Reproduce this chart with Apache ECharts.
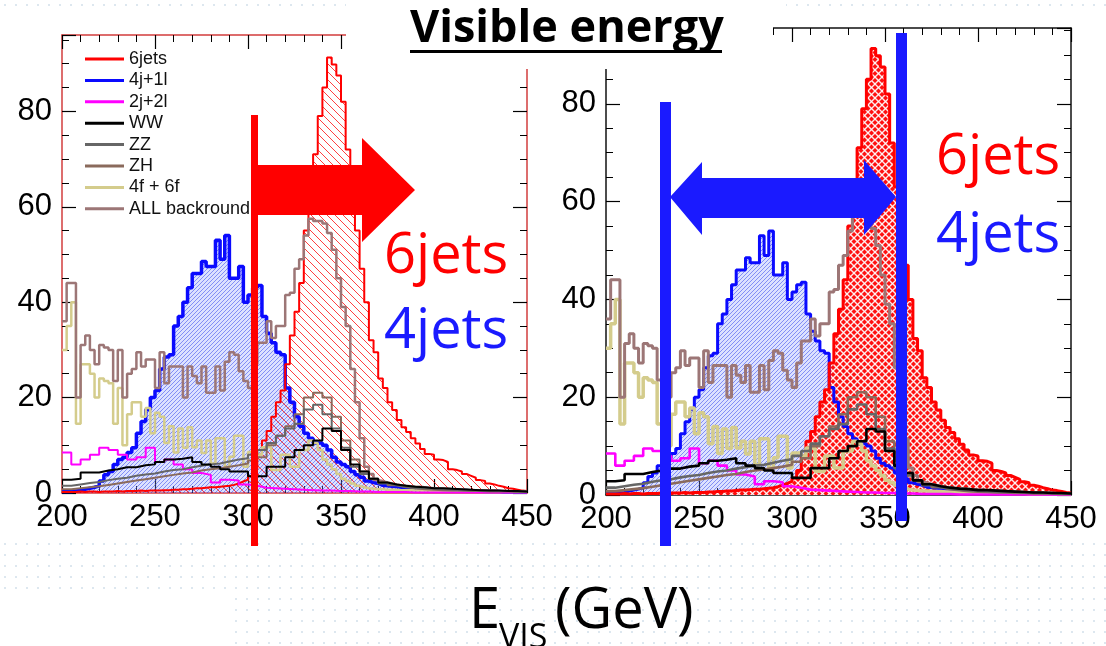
<!DOCTYPE html>
<html>
<head>
<meta charset="utf-8">
<title>Visible energy</title>
<script src="https://cdn.jsdelivr.net/npm/echarts@6/dist/echarts.min.js"></script>
<style>
  html, body { margin: 0; padding: 0; background: #fff; }
  #chart { width: 1106px; height: 646px; }
</style>
</head>
<body>
<div id="chart"></div>
<script>
// E_vis histograms, bins start at 200 GeV
const E_MIN = 200, E_MAX = 450;
const FINE = 2.5;   // bin width (GeV) of the jagged histograms
const COARSE = 5;   // bin width of the smooth ones

const legendNames = ['6jets', '4j+1l', '2j+2l', 'WW', 'ZZ', 'ZH', '4f + 6f', 'ALL backround'];

// 2.5 GeV bins, 200 -> 450
const sixJets = [
  0.2, 0.2, 0.2, 0.3, 0.2, 0.3, 0.3, 0.2, 0.3, 0.3, 0.3, 0.4, 0.3, 0.4, 0.4, 0.4, 0.5, 0.4, 0.5, 0.5, 0.5, 0.6, 0.6, 0.7,
  0.7, 0.8, 0.8, 0.9, 1.0, 1.0, 1.1, 1.2, 1.2, 1.3, 1.4, 1.5, 1.7, 2, 2.4, 2.8,
  3.5, 5, 8, 11, 13, 16, 19, 21.5, 27, 33, 38, 44, 55, 63, 71, 79, 85, 91.3, 89.8, 87.5,
  82, 72, 63, 55, 47, 40, 32, 29.5, 24, 22, 19, 17.4, 15.3, 13.8, 12.8, 11.5, 10.4, 9.2, 8.2, 8,
  7, 6.9, 6.5, 5, 4.8, 4.5, 4, 3.6, 3.2, 2.7, 2.5, 2, 1.8, 1.5, 1.3, 1, 0.9, 0.7, 0.5, 0.4
];
const fourJ1L = [
  0.3, 0.3, 0.4, 0.5, 0.8, 1, 1.2, 1.5, 2.5, 3.8, 4.5, 6, 7, 7.5, 8.5, 9.5, 12.5, 15, 17.5, 20,
  21.5, 26, 28.5, 29, 35, 37, 40, 43, 46, 46, 48.5, 47.5, 47.5, 53, 49, 54, 45, 45, 47.5, 40,
  41.5, 43, 43.5, 37, 33.5, 31.5, 29.5, 29, 22, 19, 16, 14, 12.5, 11.5, 10.5, 10.5, 10, 9, 7.5, 6.5,
  6, 5.5, 4.5, 3.8, 3.3, 2.5, 2.2, 2, 1.6, 1.5, 1.4, 1.3, 1.2, 1.2, 1.1, 1.1, 1, 1, 0.9, 0.8,
  0.7, 0.7, 0.6, 0.6, 0.5, 0.5, 0.5, 0.4, 0.4, 0.4, 0.3, 0.3, 0.3, 0.3, 0.2, 0.2, 0.2, 0.2, 0.2, 0.2
];
const allBkg = [
  36, 44, 44, 20, 31, 33, 30, 27, 31, 30.5, 30, 23.5, 30, 20, 25, 26, 29.5, 26.5, 28, 28,
  22, 29.5, 23, 26.5, 26.5, 26.5, 20, 26.5, 24.5, 23, 26.5, 21, 21, 26.5, 21.5, 27.5, 29.5, 29, 25.5, 23.5,
  22, 27, 31.5, 31.5, 36, 32.5, 35, 35, 41.5, 42, 47, 49, 54, 57.5, 57, 57, 56.5, 54.5, 51, 45,
  39, 35, 26, 19, 11.5, 5.5, 4, 2.7, 2.5, 2.2, 2, 1.8, 1.6,
  1.5, 1.4, 1.3, 1.3, 1.2, 1.1, 1, 1, 0.9, 0.9, 0.8, 0.8, 0.7, 0.7, 0.6, 0.6, 0.6, 0.5, 0.5, 0.5,
  0.4, 0.4, 0.4, 0.3, 0.3, 0.3, 0.3
];
const fourF6F = [
  30, 35, 40, 14.5, 27, 27, 25, 20, 24, 23.5, 23, 14.5, 22, 10, 16.5, 19, 19, 16, 17.8, 12.5,
  16.8, 16, 10.5, 14, 8.5, 13.5, 9.5, 13.8, 9.6, 11, 8.4, 11, 6.2, 11.5, 11.5, 5.5, 7.6, 12, 12, 5.5,
  8.6, 8.6, 8, 9.6, 9.6, 4.8, 4.8, 8, 8, 5.5, 5.5, 9, 9, 11, 10.5, 9, 7, 6, 5, 4,
  3, 2.5, 2, 1.5, 1.2, 1,
  0.9, 0.8, 0.8, 0.7, 0.7, 0.7, 0.6, 0.6, 0.6, 0.5, 0.5, 0.5, 0.5, 0.4, 0.4, 0.4, 0.4, 0.4, 0.3, 0.3,
  0.3, 0.3, 0.3, 0.3, 0.2, 0.2, 0.2, 0.2, 0.2, 0.2, 0.2, 0.2, 0.2, 0.2
];

// 5 GeV bins, 200 -> 450
const twoJ2L = [
  8.5, 6, 7, 8, 9.5, 9, 8, 7, 7.5, 9.5, 6.5, 7, 6, 5, 4.2, 3.8, 2.2, 2.8, 2.6, 1.8,
  1.5, 1.1, 1, 0.9, 0.8, 0.7, 0.6, 0.5, 0.5, 0.4, 0.4, 0.3, 0.3, 0.2, 0.2, 0.2, 0.2, 0.1, 0.1, 0.1,
  0.1, 0.1, 0.1, 0.1, 0.1, 0.1, 0.1, 0.1, 0.1, 0.1
];
const ww = [
  2.8, 3, 4.3, 4.3, 4.7, 5, 5.4, 5.4, 5.8, 6, 6.5, 7, 7.2, 7.5, 6.5, 6, 5.5, 5, 4.5, 4.5,
  3.5, 3.5, 5.5, 5.5, 7.5, 9, 10, 11, 13.5, 13, 9, 6, 4.5, 3, 2.2, 1.8, 1.5, 1.3, 1.2, 1,
  1, 0.9, 0.8, 0.7, 0.6, 0.5, 0.5, 0.4, 0.4, 0.3
];
const zz = [
  1.5, 1.8, 2.1, 2.3, 2.7, 3, 3.2, 3.6, 3.9, 4.1, 4.5, 4.8, 5, 5.4, 5.7, 6, 6.2, 6.6, 7, 7.3,
  8, 9, 10.5, 12, 13.5, 14.5, 17.5, 18.5, 16.5, 13.5, 9.5, 5.5, 4, 3, 2, 1.6, 1.3, 1.1, 1, 0.9,
  0.8, 0.7, 0.6, 0.6, 0.5, 0.5, 0.4, 0.4, 0.3, 0.3
];
const zh = [
  0.8, 1, 1.2, 1.4, 1.7, 2, 2.3, 2.6, 2.9, 3.2, 3.5, 3.8, 4.1, 4.3, 4.7, 5, 5.2, 5.5, 5.8, 6.2,
  6.8, 7.5, 10, 12, 14, 16.5, 20, 21, 20, 16, 11, 7, 4.5, 3, 2.2, 1.6, 1.2, 1, 0.8, 0.7,
  0.6, 0.5, 0.5, 0.4, 0.4, 0.3, 0.3, 0.3, 0.2, 0.2
];

function pattern(size, draw) {
  const c = document.createElement('canvas');
  c.width = c.height = size;
  draw(c.getContext('2d'), size);
  return { image: c, repeat: 'repeat' };
}
function diag(g, s, dir) {
  g.beginPath();
  if (dir > 0) {
    g.moveTo(-1, -1); g.lineTo(s + 1, s + 1);
    g.moveTo(-1, s - 1); g.lineTo(1, s + 1);
    g.moveTo(s - 1, -1); g.lineTo(s + 1, 1);
  } else {
    g.moveTo(-1, s + 1); g.lineTo(s + 1, -1);
    g.moveTo(-1, 1); g.lineTo(1, -1);
    g.moveTo(s - 1, s + 1); g.lineTo(s + 1, s - 1);
  }
  g.stroke();
}
const redHatch = pattern(8, (g, s) => {
  g.strokeStyle = 'rgba(255,0,0,0.75)'; g.lineWidth = 1; diag(g, s, 1);
});
const redCross = pattern(7, (g, s) => {
  g.fillStyle = '#ff1010'; g.fillRect(0, 0, s, s);
  g.strokeStyle = 'rgba(255,255,255,0.9)'; g.lineWidth = 1.4;
  diag(g, s, 1); diag(g, s, -1);
});
const blueFill = pattern(4, (g, s) => {
  g.fillStyle = 'rgba(140,155,255,0.3)'; g.fillRect(0, 0, s, s);
  g.strokeStyle = 'rgba(40,60,235,0.5)'; g.lineWidth = 1; diag(g, s, -1);
});
const dots = pattern(11, (g) => {
  g.fillStyle = '#dde7ef'; g.fillRect(4, 4, 2, 2);
});

// per-panel look: [left, right]
const looks = [
  { red: redHatch, frame: '#d23c3c', w: { red: 2, blue: 3.5, thin: 2, khaki: 2.5, mauve: 2.5 } },
  { red: redCross, frame: '#111', w: { red: 3, blue: 3, thin: 2.6, khaki: 3.5, mauve: 3 } }
];

function hist(panel, name, vals, width, color, lw, fill) {
  const data = vals.map((v, i) => [E_MIN + i * width, v]);
  data.push([E_MAX, vals[vals.length - 1]]);
  const s = {
    type: 'line', name, step: 'end', symbol: 'none', silent: true,
    xAxisIndex: panel * 2, yAxisIndex: panel * 2,
    data,
    lineStyle: { color, width: lw },
    itemStyle: { color }
  };
  if (fill) s.areaStyle = { color: fill, opacity: 1 };
  return s;
}

const series = [];
[0, 1].forEach(p => {
  const L = looks[p];
  series.push(
    hist(p, '4j+1l', fourJ1L, FINE, '#0a0aff', L.w.blue, blueFill),
    hist(p, '6jets', sixJets, FINE, '#ff0000', L.w.red, L.red),
    hist(p, '4f + 6f', fourF6F, FINE, '#d4cc8c', L.w.khaki),
    hist(p, 'ALL backround', allBkg, FINE, '#9c7676', L.w.mauve),
    hist(p, '2j+2l', twoJ2L, COARSE, '#ff00ff', L.w.thin),
    hist(p, 'ZH', zh, COARSE, '#8a6a5c', L.w.thin),
    hist(p, 'ZZ', zz, COARSE, '#666666', L.w.thin),
    hist(p, 'WW', ww, COARSE, '#000000', L.w.thin)
  );
});

const grids = [
  { left: 62, top: 35, width: 465, height: 458, yMax: 96 },
  { left: 606, top: 28, width: 465, height: 467, yMax: 95.5 }
];

const xAxis = [], yAxis = [];
grids.forEach((g, p) => {
  const frame = looks[p].frame;
  ['bottom', 'top'].forEach(pos => xAxis.push({
    gridIndex: p, type: 'value', position: pos, min: E_MIN, max: E_MAX, interval: 50,
    axisLine: { show: true, onZero: false, lineStyle: { color: frame, width: 1.5 } },
    axisTick: { show: true, inside: true, length: 14, lineStyle: { color: '#000', width: 1.2 } },
    minorTick: { show: true, splitNumber: 5, length: 7, lineStyle: { color: '#000', width: 1 } },
    splitLine: { show: false },
    axisLabel: {
      show: pos === 'bottom', margin: 9, color: '#000', fontSize: 31,
      fontFamily: 'Liberation Sans'
    }
  }));
  ['left', 'right'].forEach(pos => yAxis.push({
    gridIndex: p, type: 'value', position: pos, min: 0, max: g.yMax, interval: 20,
    axisLine: { show: true, onZero: false, lineStyle: { color: frame, width: 1.5 } },
    axisTick: { show: true, inside: true, length: 14, lineStyle: { color: '#000', width: 1.2 } },
    minorTick: { show: true, splitNumber: 4, length: 7, lineStyle: { color: '#000', width: 1 } },
    splitLine: { show: false },
    axisLabel: {
      show: pos === 'left', showMaxLabel: false, margin: 10, color: '#000', fontSize: 31,
      fontFamily: 'Liberation Sans'
    }
  }));
});

const slideFont = '"Open Sans", sans-serif';
function label(x, y, text, size, color, weight) {
  return {
    type: 'text', x, y, z: 120,
    style: { text, fill: color, font: (weight || 'normal') + ' ' + size + 'px ' + slideFont, verticalAlign: 'middle' }
  };
}

const graphic = [
  { type: 'rect', z: 1, shape: { x: 0, y: 0, width: 346, height: 14 }, style: { fill: dots } },
  { type: 'rect', z: 1, shape: { x: 786, y: 0, width: 320, height: 14 }, style: { fill: dots } },
  { type: 'rect', z: 1, shape: { x: 0, y: 540, width: 1106, height: 106 }, style: { fill: dots } },
  { type: 'rect', z: 2, shape: { x: 0, y: 592, width: 233, height: 54 }, style: { fill: '#fff' } },
  // white box of the title hides the top of both frames
  { type: 'rect', z: 100, shape: { x: 346, y: 0, width: 427, height: 69 }, style: { fill: '#fff' } },
  label(410, 29, 'Visible energy', 45, '#000', 'bold'),
  { type: 'rect', z: 120, shape: { x: 410, y: 50, width: 312, height: 3 }, style: { fill: '#000' } },

  // left: cut and arrow
  { type: 'rect', z: 110, shape: { x: 251, y: 115, width: 7, height: 431 }, style: { fill: '#ff0000' } },
  { type: 'polygon', z: 110, shape: { points: [[258, 165], [362, 165], [362, 138], [415, 190], [362, 242], [362, 215], [258, 215]] }, style: { fill: '#ff0000' } },
  label(384, 257, '6jets', 56, '#ff0000'),
  label(384, 332, '4jets', 56, '#1a1aff'),

  // right: window and double arrow
  { type: 'rect', z: 110, shape: { x: 660, y: 102, width: 11, height: 444 }, style: { fill: '#1a1aff' } },
  { type: 'rect', z: 110, shape: { x: 896, y: 33, width: 11, height: 488 }, style: { fill: '#1a1aff' } },
  { type: 'polygon', z: 110, shape: { points: [[670, 197], [702, 162], [702, 178], [864, 178], [864, 160], [896, 197], [864, 235], [864, 218], [702, 218], [702, 235]] }, style: { fill: '#1a1aff' } },
  label(936, 158, '6jets', 56, '#ff0000'),
  label(936, 236, '4jets', 56, '#1a1aff'),

  // axis title
  label(469, 612, 'E', 56, '#000'),
  label(499, 638, 'VIS', 34, '#000'),
  label(555, 612, '(GeV)', 56, '#000')
];

const chart = echarts.init(document.getElementById('chart'), null, { renderer: 'canvas' });
chart.setOption({
  animation: false,
  backgroundColor: '#fff',
  grid: grids.map(g => ({ left: g.left, top: g.top, width: g.width, height: g.height, outerBoundsMode: 'none' })),
  xAxis,
  yAxis,
  legend: {
    data: legendNames,
    orient: 'vertical',
    left: 85, top: 50,
    itemWidth: 39, itemHeight: 3, itemGap: 3.4,
    icon: 'rect',
    selectedMode: false,
    padding: 0,
    textStyle: { fontFamily: 'Liberation Sans', fontSize: 18, color: '#111', lineHeight: 18 }
  },
  series,
  graphic
});
</script>
</body>
</html>
